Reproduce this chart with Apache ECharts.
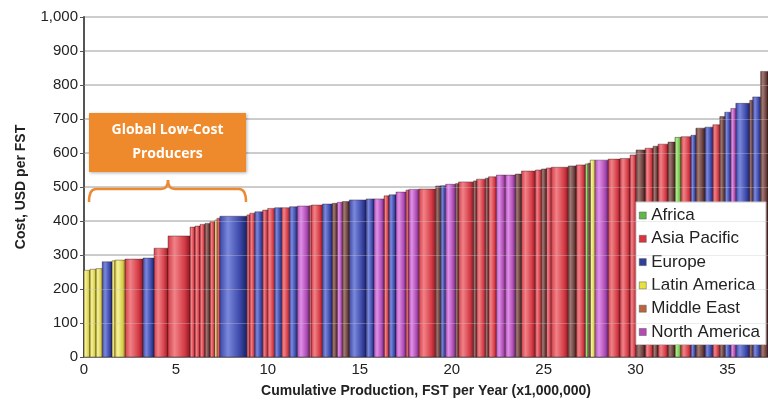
<!DOCTYPE html>
<html>
<head>
<meta charset="utf-8">
<script src="https://cdn.jsdelivr.net/npm/echarts@6/dist/echarts.min.js"></script>
<style>
  html, body { margin: 0; padding: 0; background: #fff; }
  #main { width: 768px; height: 401px; }
</style>
</head>
<body>
<div id="main"></div>
<script>
// producer capacity (million FST / yr), cash cost (USD / FST), region code
const widths = [
  0.33, 0.33, 0.33, 0.54, 0.16, 0.54, 0.98, 0.60, 0.76, 1.20,
  0.27, 0.27, 0.27, 0.27, 0.27, 0.11, 0.16, 1.47, 0.16, 0.27,
  0.43, 0.27, 0.38, 0.38, 0.43, 0.43, 0.65, 0.11, 0.60, 0.54,
  0.27, 0.27, 0.38, 0.92, 0.43, 0.54, 0.27, 0.38, 0.54, 0.16,
  0.54, 0.92, 0.27, 0.27, 0.54, 0.16, 0.82, 0.16, 0.49, 0.16,
  0.43, 0.49, 0.54, 0.33, 0.76, 0.33, 0.27, 0.27, 0.92, 0.43,
  0.49, 0.16, 0.11, 0.27, 0.71, 0.65, 0.54, 0.33, 0.49, 0.43,
  0.27, 0.54, 0.38, 0.33, 0.54, 0.27, 0.49, 0.43, 0.38, 0.27,
  0.33, 0.27, 0.76, 0.16, 0.43, 0.40
];
const costs = [
  255, 258, 260, 280, 283, 285, 288, 291, 320, 356,
  382, 385, 390, 393, 398, 403, 408, 414, 418, 423,
  427, 432, 437, 439, 439, 442, 444, 445, 447, 450,
  452, 455, 457, 462, 465, 465, 474, 477, 485, 491,
  493, 494, 503, 504, 508, 510, 515, 518, 523, 526,
  530, 535, 535, 538, 547, 550, 553, 556, 558, 562,
  565, 568, 570, 579, 579, 582, 584, 594, 609, 614,
  620, 626, 632, 646, 648, 652, 673, 676, 683, 707,
  720, 731, 746, 755, 765, 840
];
const regions = [
  'L', 'L', 'L', 'E', 'L', 'L', 'P', 'E', 'P', 'P',
  'P', 'P', 'P', 'M', 'P', 'L', 'P', 'E', 'P', 'P',
  'E', 'P', 'P', 'E', 'P', 'E', 'N', 'P', 'P', 'E',
  'M', 'N', 'M', 'E', 'E', 'N', 'P', 'E', 'N', 'P',
  'N', 'P', 'M', 'E', 'N', 'M', 'P', 'M', 'P', 'M',
  'P', 'N', 'N', 'M', 'P', 'P', 'M', 'P', 'P', 'M',
  'P', 'A', 'M', 'L', 'N', 'P', 'P', 'P', 'M', 'P',
  'M', 'P', 'M', 'A', 'P', 'E', 'M', 'E', 'P', 'M',
  'E', 'N', 'E', 'M', 'E', 'M'
];
// cost gridlines that show faintly through the bars
const gridCosts = [100, 200, 300, 400, 500, 600, 700, 800];

const regionCodes = ['A', 'P', 'E', 'L', 'M', 'N'];
const regionNames = ['Africa', 'Asia Pacific', 'Europe', 'Latin America', 'Middle East', 'North America'];
// [light, base, dark] for the cylinder-like shading, plus legend swatch
const palette = {
  A: ['#b4e890', '#6cbf45', '#357a1c', '#5fb84a'],
  P: ['#f08288', '#d43a44', '#861622', '#d8363c'],
  E: ['#7a88dc', '#3a46a6', '#181f62', '#2f3f9a'],
  L: ['#f6f29a', '#d6ce4a', '#8a8420', '#e8e23a'],
  M: ['#a07872', '#683e3a', '#2e1517', '#b9663e'],
  N: ['#e090e8', '#ac4cb4', '#66226e', '#b34ab8']
};

// running start position of each producer on the x axis
const starts = [];
let acc = 0;
widths.forEach(w => { starts.push(acc); acc += w; });

function renderItem(params, api) {
  const p0 = api.coord([api.value(0), api.value(2)]);
  const p1 = api.coord([api.value(1), 0]);
  const cs = params.coordSys;
  const x0 = Math.max(p0[0], cs.x);
  const x1 = Math.min(p1[0], cs.x + cs.width);
  if (x1 <= x0) return;
  const c = palette[api.value(3)];
  return {
    type: 'rect',
    shape: { x: x0, y: p0[1], width: x1 - x0, height: p1[1] - p0[1] },
    style: {
      fill: {
        type: 'linear', x: 0, y: 0, x2: 1, y2: 0,
        colorStops: [
          { offset: 0, color: c[1] },
          { offset: 0.3, color: c[0] },
          { offset: 0.75, color: c[1] },
          { offset: 1, color: c[2] }
        ]
      },
      stroke: 'rgba(45,20,25,0.65)',
      lineWidth: 0.6
    }
  };
}

const series = regionCodes.map((code, k) => {
  const data = [];
  widths.forEach((w, i) => {
    if (regions[i] === code) data.push([starts[i], starts[i] + w, costs[i], code]);
  });
  return {
    name: regionNames[k],
    type: 'custom',
    renderItem: renderItem,
    encode: { x: [0, 1], y: 2 },
    itemStyle: { color: palette[code][3] },
    data: data
  };
});

// faint overlay lines on top of the bars
series[series.length - 1].markLine = {
  silent: true,
  symbol: 'none',
  label: { show: false },
  lineStyle: { color: 'rgba(200,200,200,0.35)', type: 'solid', width: 1.2 },
  data: gridCosts.map(v => ({ yAxis: v })),
  z: 10
};

const chart = echarts.init(document.getElementById('main'));
const font = 'Liberation Sans, Arial, sans-serif';
const orange = '#ec8a34';

chart.setOption({
  animation: false,
  textStyle: { fontFamily: font },
  grid: { left: 84, right: 0, top: 17, bottom: 44, outerBoundsMode: 'none' },
  legend: {
    orient: 'vertical',
    left: 636,
    top: 202,
    padding: [5, 6, 4, 3],
    itemWidth: 7,
    itemHeight: 7,
    itemGap: 6.3,
    icon: 'rect',
    backgroundColor: '#fff',
    borderColor: '#c8c8c8',
    borderWidth: 1,
    textStyle: { fontSize: 17, color: '#222', fontFamily: font, lineHeight: 17 },
    itemStyle: { borderColor: '#555', borderWidth: 0.5 },
    data: regionNames
  },
  xAxis: {
    type: 'value',
    min: 0,
    max: 37.2,
    interval: 5,
    name: 'Cumulative Production, FST per Year (x1,000,000)',
    nameLocation: 'middle',
    nameGap: 27,
    nameTextStyle: { fontSize: 14, fontWeight: 'bold', color: '#222', fontFamily: font },
    axisLine: { show: true, lineStyle: { color: '#888', width: 1 } },
    axisTick: { show: false },
    splitLine: { show: false },
    axisLabel: { fontSize: 15, color: '#222', margin: 5, showMaxLabel: false }
  },
  yAxis: {
    type: 'value',
    min: 0,
    max: 1000,
    interval: 100,
    name: 'Cost, USD per FST',
    nameLocation: 'middle',
    nameGap: 56,
    nameTextStyle: { fontSize: 14, fontWeight: 'bold', color: '#222', fontFamily: font },
    axisLine: { show: true, lineStyle: { color: '#555', width: 2 } },
    axisTick: { show: true, length: 4, lineStyle: { color: '#555' } },
    splitLine: { show: true, lineStyle: { color: '#bdbdbd', width: 1.5 } },
    axisLabel: {
      fontSize: 15,
      color: '#222',
      margin: 6,
      formatter: v => v.toLocaleString('en-US')
    }
  },
  graphic: [
    {
      type: 'rect',
      shape: { x: 89, y: 113, width: 157, height: 59 },
      style: { fill: '#ef8a2c', shadowBlur: 3, shadowColor: 'rgba(0,0,0,0.3)', shadowOffsetX: 1, shadowOffsetY: 1 },
      z: 100
    },
    {
      type: 'text',
      x: 167.5,
      y: 142,
      style: {
        text: 'Global Low-Cost\nProducers',
        fill: '#fff',
        font: 'bold 14px "Open Sans", Lato, sans-serif',
        lineHeight: 24,
        align: 'center',
        verticalAlign: 'middle'
      },
      z: 101
    },
    // curly bracket under the label box
    {
      type: 'polyline',
      shape: { points: [[96, 189], [161, 189]] },
      style: { stroke: orange, lineWidth: 2.5, fill: null },
      z: 100
    },
    {
      type: 'polyline',
      shape: { points: [[175, 189], [239, 189]] },
      style: { stroke: orange, lineWidth: 2.5, fill: null },
      z: 100
    },
    {
      type: 'bezierCurve',
      shape: { x1: 89, y1: 202, cpx1: 89, cpy1: 189, x2: 96, y2: 189 },
      style: { stroke: orange, lineWidth: 2.5, fill: null },
      z: 100
    },
    {
      type: 'bezierCurve',
      shape: { x1: 161, y1: 189, cpx1: 168, cpy1: 189, x2: 168, y2: 180 },
      style: { stroke: orange, lineWidth: 2.5, fill: null },
      z: 100
    },
    {
      type: 'bezierCurve',
      shape: { x1: 168, y1: 180, cpx1: 168, cpy1: 189, x2: 175, y2: 189 },
      style: { stroke: orange, lineWidth: 2.5, fill: null },
      z: 100
    },
    {
      type: 'bezierCurve',
      shape: { x1: 239, y1: 189, cpx1: 246, cpy1: 189, x2: 246, y2: 202 },
      style: { stroke: orange, lineWidth: 2.5, fill: null },
      z: 100
    }
  ],
  series: series
});
</script>
</body>
</html>
